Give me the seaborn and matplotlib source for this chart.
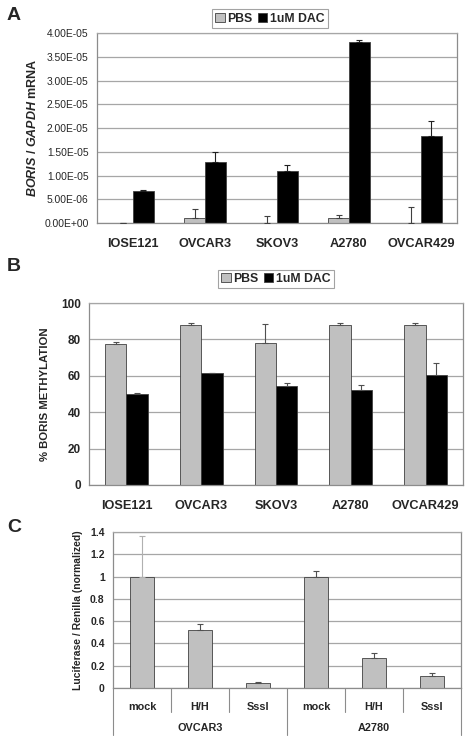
import matplotlib
matplotlib.use("Agg")
import matplotlib.pyplot as plt
import seaborn as sns
import pandas as pd
import numpy as np
from matplotlib.patches import Patch

# ---------------- data ----------------
cell_lines = ['IOSE121', 'OVCAR3', 'SKOV3', 'A2780', 'OVCAR429']
treatments = ['PBS', '1uM DAC']

mrna_pbs = [0.0, 1.1e-6, 0.0, 1.1e-6, 0.1e-6]
mrna_pbs_err = [0.0, 1.9e-6, 1.4e-6, 0.5e-6, 3.2e-6]
mrna_dac = [6.8e-6, 1.29e-5, 1.10e-5, 3.82e-5, 1.83e-5]
mrna_dac_err = [0.05e-6, 2.1e-6, 1.2e-6, 0.3e-6, 3.1e-6]

meth_pbs = [77.5, 88.0, 78.0, 88.0, 88.0]
meth_pbs_err = [1.0, 1.0, 10.7, 1.0, 1.0]
meth_dac = [50.0, 61.4, 54.2, 52.1, 60.2]
meth_dac_err = [0.7, 0.3, 1.6, 2.6, 6.6]

luc_conditions = ['mock', 'H/H', 'SssI', 'mock', 'H/H', 'SssI']
luc_groups = ['OVCAR3', 'A2780']
luc_values = [1.0, 0.52, 0.045, 1.0, 0.265, 0.107]
luc_err = [0.36, 0.055, 0.006, 0.046, 0.048, 0.027]

ylabelsA = ['0.00E+00', '5.00E-06', '1.00E-05', '1.50E-05', '2.00E-05',
            '2.50E-05', '3.00E-05', '3.50E-05', '4.00E-05']

# ---------------- style ----------------
sns.set_style('white')
plt.rcParams['font.family'] = ['Liberation Sans', 'DejaVu Sans']
plt.rcParams['mathtext.fontset'] = 'custom'
plt.rcParams['mathtext.it'] = 'Liberation Sans:italic:bold'
plt.rcParams['mathtext.rm'] = 'Liberation Sans:bold'
plt.rcParams['mathtext.bf'] = 'Liberation Sans:bold'

GRID = '#a6a6a6'
SPINE = '#8c8c8c'
PBS_C = '#c0c0c0'
DAC_C = '#000000'
EDGE = '#404040'

fig = plt.figure(figsize=(4.70, 7.41), dpi=100)

def style_axes(ax):
    ax.set_axisbelow(True)
    ax.yaxis.grid(True, color=GRID, lw=0.9)
    ax.xaxis.grid(False)
    for s in ['left', 'right', 'top', 'bottom']:
        ax.spines[s].set_visible(True)
        ax.spines[s].set_color(SPINE)
        ax.spines[s].set_linewidth(0.9)
    ax.spines['top'].set_color(GRID)
    ax.tick_params(axis='y', which='major', length=4, direction='out', color=SPINE, width=0.8, pad=2)

def add_err(ax, errs_by_container, colors):
    for cont, errs, cols in zip(ax.containers, errs_by_container, colors):
        for b, e, c in zip(cont, errs, cols):
            x = b.get_x() + b.get_width() / 2
            y = b.get_height()
            ax.errorbar([x], [y], yerr=[[0], [e]], fmt='none',
                        ecolor=c, elinewidth=0.8, capsize=2, capthick=0.8, zorder=3)

def grouped_legend(ax, anchor):
    handles = [Patch(facecolor=PBS_C, edgecolor=EDGE, lw=0.6),
               Patch(facecolor=DAC_C, edgecolor=EDGE, lw=0.6)]
    leg = ax.legend(handles, treatments, ncol=2, loc='center', bbox_to_anchor=anchor,
                    bbox_transform=fig.transFigure, frameon=True, fancybox=False,
                    handlelength=0.75, handleheight=0.75, handletextpad=0.25,
                    columnspacing=0.4, borderpad=0.25, borderaxespad=0,
                    prop={'weight': 'bold', 'size': 8.8})
    leg.get_frame().set_edgecolor(SPINE)
    leg.get_frame().set_linewidth(0.8)

# ---------------- Panel A ----------------
axA = fig.add_axes([97/470, 1 - 223/741, 360/470, 190/741])
dfA = pd.DataFrame({
    'cell': cell_lines * 2,
    'treat': [treatments[0]] * 5 + [treatments[1]] * 5,
    'val': mrna_pbs + mrna_dac,
})
sns.barplot(data=dfA, x='cell', y='val', hue='treat', hue_order=treatments,
            palette=[PBS_C, DAC_C], width=0.58, errorbar=None, edgecolor=EDGE,
            linewidth=0.6, ax=axA, legend=False)
add_err(axA, [mrna_pbs_err, mrna_dac_err], [['#404040'] * 5, ['#202020'] * 5])
style_axes(axA)
axA.set_ylim(0, 4e-5)
axA.set_yticks(np.arange(0, 4.01e-5, 5e-6))
axA.set_yticklabels(ylabelsA, fontsize=7.4)
axA.set_xlim(-0.5, 4.5)
axA.set_xticks(np.arange(-0.5, 5, 1), minor=True)
axA.tick_params(axis='x', which='minor', length=5, color=SPINE, width=0.8)
axA.tick_params(axis='x', which='major', length=0, pad=11)
axA.set_xticklabels(cell_lines, fontsize=9.2, fontweight='bold')
axA.set_xlabel('')
axA.set_ylabel(r'$\mathit{BORIS}$ / $\mathit{GAPDH}$ mRNA', fontsize=9, fontweight='bold', labelpad=4)
grouped_legend(axA, (270/470, 1 - 18.5/741))
fig.text(7/470, 1 - 15/741, 'A', fontsize=14, fontweight='bold', va='center', ha='left')

# ---------------- Panel B ----------------
axB = fig.add_axes([89/470, 1 - 485/741, 374/470, 182/741])
dfB = pd.DataFrame({
    'cell': cell_lines * 2,
    'treat': [treatments[0]] * 5 + [treatments[1]] * 5,
    'val': meth_pbs + meth_dac,
})
sns.barplot(data=dfB, x='cell', y='val', hue='treat', hue_order=treatments,
            palette=[PBS_C, DAC_C], width=0.57, errorbar=None, edgecolor=EDGE,
            linewidth=0.6, ax=axB, legend=False)
add_err(axB, [meth_pbs_err, meth_dac_err], [['#505050'] * 5, ['#505050'] * 5])
style_axes(axB)
axB.set_ylim(0, 100)
axB.set_yticks(np.arange(0, 101, 20))
axB.tick_params(axis='y', labelsize=8.5)
for t in axB.get_yticklabels():
    t.set_fontweight('bold')
axB.set_xlim(-0.5, 4.5)
axB.set_xticks(np.arange(-0.5, 5, 1), minor=True)
axB.tick_params(axis='x', which='minor', length=5, color=SPINE, width=0.8)
axB.tick_params(axis='x', which='major', length=0, pad=11)
axB.set_xticklabels(cell_lines, fontsize=9.2, fontweight='bold')
axB.set_xlabel('')
axB.set_ylabel('% BORIS METHYLATION', fontsize=8.2, fontweight='bold', labelpad=8)
grouped_legend(axB, (276/470, 1 - 279/741))
fig.text(7/470, 1 - 266/741, 'B', fontsize=14, fontweight='bold', va='center', ha='left')

# ---------------- Panel C ----------------
axC = fig.add_axes([113/470, 1 - 688/741, 348/470, 156/741])
dfC = pd.DataFrame({
    'pos': [str(i) for i in range(6)],
    'val': luc_values,
})
sns.barplot(data=dfC, x='pos', y='val', color=PBS_C, width=0.43, errorbar=None,
            edgecolor=EDGE, linewidth=0.6, ax=axC)
add_err(axC, [luc_err], [['#b0b0b0'] + ['#505050'] * 5])
style_axes(axC)
axC.set_ylim(0, 1.4)
axC.set_yticks([0, 0.2, 0.4, 0.6, 0.8, 1.0, 1.2, 1.4])
axC.set_yticklabels(['0', '0.2', '0.4', '0.6', '0.8', '1', '1.2', '1.4'], fontsize=7.5, fontweight='bold')
axC.set_xlim(-0.5, 5.5)
axC.tick_params(axis='x', which='major', length=0, pad=10)
axC.set_xticks(range(6))
axC.set_xticklabels(luc_conditions, fontsize=7.8, fontweight='bold')
axC.set_xlabel('')
axC.set_ylabel('Luciferase / Renilla (normalized)', fontsize=7.5, fontweight='bold', labelpad=5)
trans = axC.get_xaxis_transform()
short_h = 24 / 156
long_h = 47 / 156
for b in np.arange(-0.5, 6, 1):
    h = long_h if b in (-0.5, 2.5, 5.5) else short_h
    axC.plot([b, b], [0, -h], transform=trans, color=SPINE, lw=0.8, clip_on=False)
for gi, g in enumerate(luc_groups):
    axC.text(1 + 3 * gi, -40 / 156, g, transform=trans, ha='center', va='center',
             fontsize=7.8, fontweight='bold')
fig.text(7/470, 1 - 527/741, 'C', fontsize=14, fontweight='bold', va='center', ha='left')

fig.savefig('out.png', dpi=100)
